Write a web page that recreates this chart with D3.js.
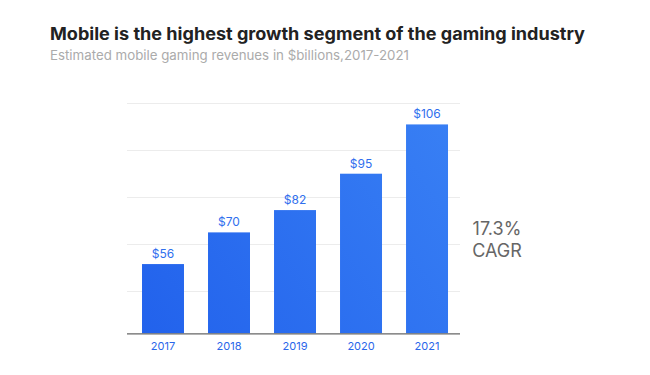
<!DOCTYPE html>
<html>
<head>
<meta charset="utf-8">
<script src="https://cdn.jsdelivr.net/npm/d3@7"></script>
<style>
  body { margin: 0; background: #fff; }
  svg { display: block; }
</style>
</head>
<body>
<div id="chart"></div>
<script>
// data
const years = ["2017", "2018", "2019", "2020", "2021"];
const revenues = [56, 70, 82, 95, 106];           // $ billions, as labelled
const barLevels = [31.5, 45, 54.5, 70, 91];      // drawn bar heights, in gridline units
const gridTicks = [20, 40, 60, 80, 100];

const W = 650, H = 375;
const plotLeft = 127, plotRight = 460, plotTop = 103.3, plotBottom = 333.3;

const svg = d3.select("#chart").append("svg")
  .attr("width", W)
  .attr("height", H);

// gradient across the bars
const defs = svg.append("defs");
const grad = defs.append("linearGradient")
  .attr("id", "barGrad")
  .attr("gradientUnits", "userSpaceOnUse")
  .attr("x1", 142).attr("y1", 333)
  .attr("x2", 448).attr("y2", 124);
grad.append("stop").attr("offset", "0%").attr("stop-color", "#2262ec");
grad.append("stop").attr("offset", "100%").attr("stop-color", "#387ff4");

// titles
svg.append("text")
  .attr("x", 50).attr("y", 40)
  .attr("textLength", 535)
  .attr("lengthAdjust", "spacingAndGlyphs")
  .style("font-family", "Inter, 'Open Sans', sans-serif")
  .style("font-size", "17px")
  .style("font-weight", "700")
  .style("fill", "#222")
  .text("Mobile is the highest growth segment of the gaming industry");

svg.append("text")
  .attr("x", 50).attr("y", 60)
  .attr("textLength", 359)
  .attr("lengthAdjust", "spacingAndGlyphs")
  .style("font-family", "Inter, 'Open Sans', sans-serif")
  .style("font-size", "13px")
  .style("fill", "#ababab")
  .text("Estimated mobile gaming revenues in $billions,2017-2021");

// scales
const x = d3.scaleBand()
  .domain(years)
  .range([plotLeft, plotRight])
  .paddingInner(0.364)
  .paddingOuter(0.2045)
  .align(0.556);

const y = d3.scaleLinear()
  .domain([2, 100])
  .range([plotBottom, plotTop]);

// gridlines
svg.append("g")
  .selectAll("line")
  .data(gridTicks)
  .join("line")
  .attr("x1", plotLeft).attr("x2", plotRight)
  .attr("y1", d => Math.round(y(d)) + 0.5)
  .attr("y2", d => Math.round(y(d)) + 0.5)
  .attr("stroke", "#ececec")
  .attr("stroke-width", 1);

// bars
const rows = years.map((yr, i) => ({ year: yr, rev: revenues[i], level: barLevels[i] }));

svg.append("g")
  .selectAll("rect")
  .data(rows)
  .join("rect")
  .attr("x", d => x(d.year))
  .attr("width", x.bandwidth())
  .attr("y", d => y(d.level))
  .attr("height", d => y(2) - y(d.level))
  .attr("fill", "url(#barGrad)");

// value labels
svg.append("g")
  .selectAll("text")
  .data(rows)
  .join("text")
  .attr("x", d => x(d.year) + x.bandwidth() / 2)
  .attr("y", d => y(d.level) - 6)
  .attr("text-anchor", "middle")
  .style("font-family", "Inter, 'Open Sans', sans-serif")
  .style("font-size", "12px")
  .style("fill", "#2f6fee")
  .text(d => "$" + d.rev);

// x axis
const xAxis = svg.append("g")
  .attr("transform", "translate(0," + plotBottom + ")")
  .call(d3.axisBottom(x).tickSize(0).tickPadding(0));
xAxis.select(".domain")
  .attr("d", "M" + plotLeft + ",0.5H" + plotRight)
  .attr("stroke", "#666")
  .attr("stroke-width", 1.3);
xAxis.selectAll("text")
  .attr("dy", null)
  .attr("y", 17)
  .style("font-family", "Inter, 'Open Sans', sans-serif")
  .style("font-size", "11px")
  .style("fill", "#2a66ea");

// CAGR note
const note = svg.append("g")
  .style("font-family", "Inter, 'Open Sans', sans-serif")
  .style("font-size", "18px")
  .style("fill", "#666")
  .attr("text-anchor", "middle");
note.append("text").attr("x", 497).attr("y", 235).text("17.3%");
note.append("text").attr("x", 497).attr("y", 257).text("CAGR");
</script>
</body>
</html>
